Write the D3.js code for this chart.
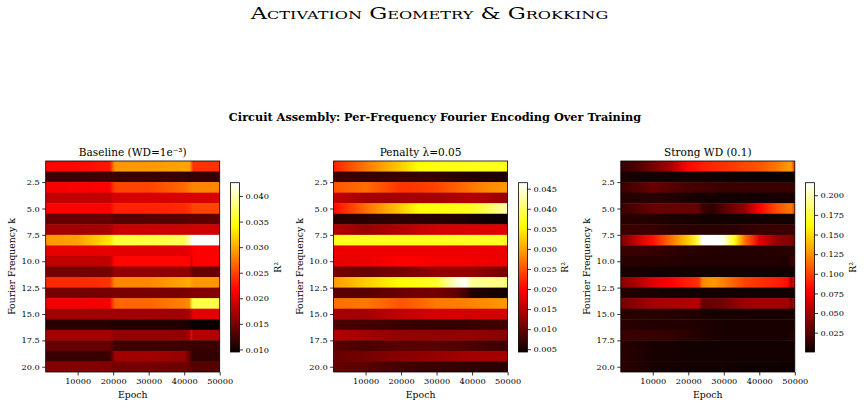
<!DOCTYPE html>
<html>
<head>
<meta charset="utf-8">
<script src="https://cdn.jsdelivr.net/npm/d3@7"></script>
<style>
  body { margin: 0; background: #fff; }
  svg { display: block; }
  text { font-family: "DejaVu Serif", serif; fill: #000; }
</style>
</head>
<body>
<svg id="fig"></svg>
<script>
// data: R^2 per Fourier frequency (rows k=1..20) at a few epochs
var freqs = [1, 2, 3, 4, 5, 6, 7, 8, 9, 10, 11, 12, 13, 14, 15, 16, 17, 18, 19, 20];
var freqTicks = [2.5, 5.0, 7.5, 10.0, 12.5, 15.0, 17.5, 20.0];
var epochTicks = [10000, 20000, 30000, 40000, 50000];
var epochRange = [1000, 50000];

var baselineEpochs = [1000, 10000, 19000, 20500, 30000, 40000, 41500, 42000, 42500, 50000];
var baselineR2 = [
  [0.0217, 0.0220, 0.0226, 0.0291, 0.0291, 0.0297, 0.0297, 0.0270, 0.0240, 0.0240],
  [0.0121, 0.0121, 0.0121, 0.0118, 0.0118, 0.0118, 0.0112, 0.0114, 0.0117, 0.0117],
  [0.0212, 0.0214, 0.0216, 0.0249, 0.0249, 0.0268, 0.0275, 0.0280, 0.0282, 0.0282],
  [0.0185, 0.0185, 0.0185, 0.0197, 0.0197, 0.0197, 0.0197, 0.0197, 0.0197, 0.0197],
  [0.0215, 0.0215, 0.0215, 0.0232, 0.0232, 0.0235, 0.0240, 0.0245, 0.0249, 0.0249],
  [0.0140, 0.0140, 0.0140, 0.0132, 0.0132, 0.0133, 0.0134, 0.0135, 0.0136, 0.0136],
  [0.0170, 0.0170, 0.0172, 0.0189, 0.0189, 0.0190, 0.0190, 0.0191, 0.0192, 0.0192],
  [0.0291, 0.0296, 0.0330, 0.0360, 0.0362, 0.0370, 0.0400, 0.0415, 0.0426, 0.0426],
  [0.0204, 0.0204, 0.0204, 0.0202, 0.0202, 0.0202, 0.0205, 0.0210, 0.0215, 0.0215],
  [0.0185, 0.0185, 0.0185, 0.0218, 0.0218, 0.0218, 0.0218, 0.0190, 0.0216, 0.0216],
  [0.0147, 0.0147, 0.0147, 0.0162, 0.0162, 0.0162, 0.0160, 0.0150, 0.0140, 0.0140],
  [0.0236, 0.0236, 0.0240, 0.0282, 0.0282, 0.0297, 0.0300, 0.0295, 0.0291, 0.0291],
  [0.0147, 0.0147, 0.0147, 0.0150, 0.0150, 0.0150, 0.0152, 0.0153, 0.0154, 0.0154],
  [0.0210, 0.0210, 0.0212, 0.0266, 0.0266, 0.0280, 0.0285, 0.0330, 0.0365, 0.0365],
  [0.0170, 0.0170, 0.0170, 0.0170, 0.0170, 0.0170, 0.0175, 0.0190, 0.0202, 0.0202],
  [0.0109, 0.0109, 0.0109, 0.0106, 0.0106, 0.0106, 0.0103, 0.0098, 0.0095, 0.0095],
  [0.0170, 0.0170, 0.0170, 0.0162, 0.0162, 0.0162, 0.0170, 0.0215, 0.0178, 0.0178],
  [0.0140, 0.0140, 0.0140, 0.0120, 0.0120, 0.0120, 0.0119, 0.0118, 0.0118, 0.0118],
  [0.0118, 0.0118, 0.0118, 0.0170, 0.0170, 0.0165, 0.0140, 0.0125, 0.0115, 0.0115],
  [0.0154, 0.0154, 0.0154, 0.0147, 0.0147, 0.0145, 0.0140, 0.0135, 0.0132, 0.0132]
];

var penaltyEpochs = [1000, 10000, 20000, 25000, 30000, 35000, 38000, 40000, 45000, 50000];
var penaltyR2 = [
  [0.0217, 0.0273, 0.0326, 0.0358, 0.0365, 0.0366, 0.0367, 0.0368, 0.0369, 0.0370],
  [0.0072, 0.0070, 0.0072, 0.0070, 0.0070, 0.0064, 0.0060, 0.0058, 0.0056, 0.0055],
  [0.0250, 0.0266, 0.0229, 0.0232, 0.0240, 0.0255, 0.0265, 0.0273, 0.0285, 0.0294],
  [0.0159, 0.0140, 0.0140, 0.0140, 0.0140, 0.0145, 0.0148, 0.0150, 0.0140, 0.0130],
  [0.0202, 0.0266, 0.0326, 0.0358, 0.0362, 0.0365, 0.0368, 0.0370, 0.0400, 0.0431],
  [0.0062, 0.0062, 0.0066, 0.0064, 0.0062, 0.0058, 0.0056, 0.0052, 0.0047, 0.0043],
  [0.0149, 0.0130, 0.0149, 0.0160, 0.0169, 0.0171, 0.0172, 0.0173, 0.0176, 0.0178],
  [0.0370, 0.0372, 0.0370, 0.0370, 0.0370, 0.0372, 0.0374, 0.0375, 0.0374, 0.0372],
  [0.0185, 0.0185, 0.0186, 0.0186, 0.0186, 0.0186, 0.0186, 0.0186, 0.0186, 0.0186],
  [0.0183, 0.0185, 0.0197, 0.0195, 0.0190, 0.0190, 0.0189, 0.0188, 0.0187, 0.0186],
  [0.0111, 0.0101, 0.0111, 0.0120, 0.0130, 0.0130, 0.0130, 0.0130, 0.0120, 0.0111],
  [0.0294, 0.0326, 0.0358, 0.0365, 0.0375, 0.0440, 0.0465, 0.0420, 0.0415, 0.0411],
  [0.0092, 0.0092, 0.0104, 0.0108, 0.0110, 0.0100, 0.0080, 0.0055, 0.0052, 0.0050],
  [0.0266, 0.0273, 0.0250, 0.0260, 0.0273, 0.0276, 0.0278, 0.0280, 0.0287, 0.0294],
  [0.0140, 0.0140, 0.0159, 0.0165, 0.0169, 0.0169, 0.0169, 0.0169, 0.0170, 0.0170],
  [0.0082, 0.0078, 0.0072, 0.0070, 0.0068, 0.0069, 0.0070, 0.0072, 0.0075, 0.0078],
  [0.0149, 0.0140, 0.0130, 0.0130, 0.0130, 0.0130, 0.0130, 0.0130, 0.0126, 0.0122],
  [0.0092, 0.0082, 0.0092, 0.0092, 0.0092, 0.0088, 0.0085, 0.0082, 0.0077, 0.0072],
  [0.0101, 0.0110, 0.0122, 0.0126, 0.0130, 0.0135, 0.0138, 0.0140, 0.0140, 0.0140],
  [0.0101, 0.0092, 0.0078, 0.0075, 0.0072, 0.0070, 0.0068, 0.0066, 0.0064, 0.0062]
];

var strongEpochs = [1000, 5000, 10000, 15000, 20000, 23000, 24000, 27000, 30000, 33000, 36000, 40000, 45000, 48000, 49000, 50000];
var strongR2 = [
  [0.0153, 0.020, 0.035, 0.050, 0.081, 0.086, 0.088, 0.091, 0.095, 0.098, 0.102, 0.106, 0.117, 0.128, 0.130, 0.089],
  [0.0053, 0.004, 0.003, 0.003, 0.003, 0.003, 0.003, 0.0025, 0.002, 0.001, 0.0005, 0.0005, 0.0005, 0.0005, 0.0005, 0.0005],
  [0.0153, 0.022, 0.030, 0.025, 0.020, 0.018, 0.018, 0.017, 0.0153, 0.015, 0.015, 0.015, 0.015, 0.015, 0.015, 0.015],
  [0.008, 0.009, 0.010, 0.008, 0.005, 0.004, 0.004, 0.0035, 0.003, 0.003, 0.003, 0.003, 0.004, 0.005, 0.005, 0.005],
  [0.0153, 0.022, 0.030, 0.030, 0.030, 0.028, 0.015, 0.012, 0.025, 0.035, 0.045, 0.079, 0.104, 0.115, 0.118, 0.095],
  [0.010, 0.009, 0.008, 0.006, 0.005, 0.004, 0.003, 0.003, 0.003, 0.003, 0.003, 0.003, 0.003, 0.003, 0.003, 0.003],
  [0.0153, 0.0153, 0.0153, 0.012, 0.010, 0.010, 0.010, 0.010, 0.010, 0.011, 0.013, 0.015, 0.015, 0.015, 0.015, 0.015],
  [0.035, 0.059, 0.085, 0.115, 0.145, 0.180, 0.216, 0.216, 0.212, 0.165, 0.115, 0.070, 0.045, 0.040, 0.038, 0.035],
  [0.0153, 0.0153, 0.015, 0.012, 0.010, 0.009, 0.009, 0.008, 0.008, 0.008, 0.008, 0.008, 0.009, 0.010, 0.010, 0.010],
  [0.010, 0.010, 0.010, 0.009, 0.008, 0.008, 0.008, 0.008, 0.008, 0.008, 0.008, 0.008, 0.008, 0.006, 0.015, 0.015],
  [0.005, 0.004, 0.003, 0.003, 0.003, 0.003, 0.003, 0.003, 0.003, 0.003, 0.003, 0.003, 0.003, 0.003, 0.003, 0.003],
  [0.040, 0.050, 0.069, 0.079, 0.089, 0.095, 0.122, 0.128, 0.120, 0.110, 0.100, 0.095, 0.089, 0.083, 0.050, 0.079],
  [0.008, 0.007, 0.006, 0.004, 0.003, 0.003, 0.003, 0.003, 0.003, 0.003, 0.003, 0.003, 0.003, 0.003, 0.003, 0.003],
  [0.035, 0.042, 0.050, 0.052, 0.054, 0.056, 0.030, 0.032, 0.035, 0.042, 0.048, 0.050, 0.050, 0.050, 0.035, 0.059],
  [0.010, 0.010, 0.010, 0.009, 0.008, 0.007, 0.006, 0.005, 0.005, 0.005, 0.005, 0.005, 0.005, 0.005, 0.005, 0.005],
  [0.010, 0.009, 0.008, 0.008, 0.008, 0.007, 0.007, 0.006, 0.005, 0.005, 0.005, 0.005, 0.005, 0.005, 0.005, 0.005],
  [0.0153, 0.0153, 0.0153, 0.013, 0.010, 0.008, 0.007, 0.006, 0.005, 0.005, 0.005, 0.005, 0.005, 0.005, 0.008, 0.005],
  [0.010, 0.008, 0.005, 0.004, 0.003, 0.003, 0.003, 0.003, 0.003, 0.003, 0.003, 0.003, 0.003, 0.003, 0.003, 0.003],
  [0.010, 0.008, 0.005, 0.004, 0.003, 0.003, 0.003, 0.003, 0.003, 0.003, 0.003, 0.003, 0.003, 0.003, 0.003, 0.003],
  [0.010, 0.008, 0.005, 0.004, 0.003, 0.003, 0.003, 0.003, 0.003, 0.002, 0.002, 0.002, 0.002, 0.001, 0.0006, 0.0004]
];

var baselineTicks = [0.010, 0.015, 0.020, 0.025, 0.030, 0.035, 0.040];
var penaltyTicks = [0.005, 0.010, 0.015, 0.020, 0.025, 0.030, 0.035, 0.040, 0.045];
var strongTicks = [0.025, 0.050, 0.075, 0.100, 0.125, 0.150, 0.175, 0.200];

var panels = [
  {title: "Baseline (WD=1e\u207B\u00B3)", epochs: baselineEpochs, values: baselineR2, ticks: baselineTicks},
  {title: "Penalty \u03BB=0.05", epochs: penaltyEpochs, values: penaltyR2, ticks: penaltyTicks},
  {title: "Strong WD (0.1)", epochs: strongEpochs, values: strongR2, ticks: strongTicks}
];

//layout
var W = 864, H = 406;
var plot = {top: 161, width: 174, height: 211};
var cb = {gap: 10.8, width: 9, top: 182.7, height: 169.3};
var panelLeft = [45.7, 333.6, 620.8];
var font = {tick: 8.2, label: 9.3, title: 10.3, sub: 11.3};

var svg = d3.select("#fig").attr("width", W).attr("height", H);
var defs = svg.append("defs");

// matplotlib "hot" colormap
var hotStops = [0, 0.365079, 0.746032, 1];
var hot = d3.scaleLinear()
  .domain(hotStops)
  .range(["rgb(11,0,0)", "rgb(255,0,0)", "rgb(255,255,0)", "rgb(255,255,255)"])
  .clamp(true);

// scale a text's font so it spans the width seen in the reference
function fitWidth(sel, target) {
  var w = sel.node().getComputedTextLength();
  var fs = +sel.attr("font-size") * target / w;
  sel.attr("font-size", fs);
  return fs;
}

// suptitle: small caps, stretched sideways to the wide look of the original
var sup = svg.append("text")
  .attr("text-anchor", "middle")
  .style("font-variant", "small-caps")
  .attr("font-size", 16.2)
  .text("Activation Geometry & Grokking");
var supScale = 345 / sup.node().getComputedTextLength();
sup.attr("transform", "translate(429.5,19) scale(" + supScale + ",1)");

var sub = svg.append("text")
  .attr("x", 435).attr("y", 121)
  .attr("text-anchor", "middle")
  .attr("font-weight", "bold")
  .attr("font-size", font.sub)
  .text("Circuit Assembly: Per-Frequency Fourier Encoding Over Training");
fitWidth(sub, 413);

function styleAxis(g) {
  g.select(".domain").remove();
  g.selectAll(".tick line").attr("stroke", "#000").attr("stroke-width", 0.8);
  g.selectAll(".tick text").attr("font-size", font.tick).attr("font-family", "'DejaVu Serif', serif");
}

panels.forEach(function(p, pi) {
  var left = panelLeft[pi];
  var x = d3.scaleLinear().domain(epochRange).range([0, plot.width]);
  var y = d3.scaleLinear().domain([0.5, 20.5]).range([0, plot.height]);
  var ext = d3.extent(d3.merge(p.values));
  var norm = d3.scaleLinear().domain(ext).range([0, 1]);
  var color = function(v) { return hot(norm(v)); };

  var g = svg.append("g").attr("transform", "translate(" + left + "," + plot.top + ")");

  // one horizontal gradient per frequency row
  var x0 = x(p.epochs[0]), x1 = x(p.epochs[p.epochs.length - 1]);
  p.values.forEach(function(row, ri) {
    var grad = defs.append("linearGradient")
      .attr("id", "row" + pi + "_" + ri)
      .attr("gradientUnits", "userSpaceOnUse")
      .attr("x1", x0).attr("x2", x1).attr("y1", 0).attr("y2", 0);
    grad.selectAll("stop")
      .data(row)
      .enter()
      .append("stop")
      .attr("offset", function(d, i) { return (x(p.epochs[i]) - x0) / (x1 - x0); })
      .attr("stop-color", color);
  });

  g.selectAll("rect.row")
    .data(p.values)
    .enter()
    .append("rect")
    .attr("class", "row")
    .attr("x", x(epochRange[0]))
    .attr("width", x(epochRange[1]) - x(epochRange[0]))
    .attr("y", function(d, i) { return y(freqs[i] - 0.5); })
    .attr("height", function(d, i) { return y(freqs[i] + 0.5) - y(freqs[i] - 0.5) + (i < 19 ? 0.5 : 0); })
    .attr("fill", function(d, i) { return "url(#row" + pi + "_" + i + ")"; });

  g.append("rect")
    .attr("width", plot.width).attr("height", plot.height)
    .attr("fill", "none").attr("stroke", "#000").attr("stroke-width", 0.8);

  g.append("g")
    .attr("transform", "translate(0," + plot.height + ")")
    .call(d3.axisBottom(x).tickValues(epochTicks).tickFormat(d3.format("d")).tickSize(3.5).tickPadding(2.5))
    .call(styleAxis);

  g.append("g")
    .call(d3.axisLeft(y).tickValues(freqTicks).tickFormat(d3.format(".1f")).tickSize(3.5).tickPadding(2.5))
    .call(styleAxis);

  var t = g.append("text")
    .attr("x", plot.width / 2).attr("y", -5)
    .attr("text-anchor", "middle")
    .attr("font-size", font.title)
    .text(p.title);
  if (pi === 0) font.title = fitWidth(t, 108);

  g.append("text")
    .attr("x", plot.width / 2).attr("y", plot.height + 26)
    .attr("text-anchor", "middle")
    .attr("font-size", font.label)
    .text("Epoch");

  g.append("text")
    .attr("transform", "translate(-31," + (plot.height / 2) + ") rotate(-90)")
    .attr("text-anchor", "middle")
    .attr("font-size", font.label)
    .text("Fourier Frequency k");

  // colorbar
  var cy = d3.scaleLinear().domain(ext).range([cb.height, 0]);
  var cg = svg.append("g").attr("transform", "translate(" + (left + plot.width + cb.gap) + "," + cb.top + ")");
  var cgrad = defs.append("linearGradient")
    .attr("id", "cb" + pi)
    .attr("x1", 0).attr("x2", 0).attr("y1", 1).attr("y2", 0);
  cgrad.selectAll("stop")
    .data(hotStops)
    .enter()
    .append("stop")
    .attr("offset", function(d) { return d; })
    .attr("stop-color", function(d) { return hot(d); });

  cg.append("rect")
    .attr("width", cb.width).attr("height", cb.height)
    .attr("fill", "url(#cb" + pi + ")")
    .attr("stroke", "#000").attr("stroke-width", 0.8);

  cg.append("g")
    .attr("transform", "translate(" + cb.width + ",0)")
    .call(d3.axisRight(cy).tickValues(p.ticks).tickFormat(d3.format(".3f")).tickSize(3.5).tickPadding(2.5))
    .call(styleAxis);

  cg.append("text")
    .attr("transform", "translate(" + (cb.width + 41) + "," + (cb.height / 2) + ") rotate(-90)")
    .attr("text-anchor", "middle")
    .attr("font-size", font.label)
    .text("R\u00B2");
});
</script>
</body>
</html>
